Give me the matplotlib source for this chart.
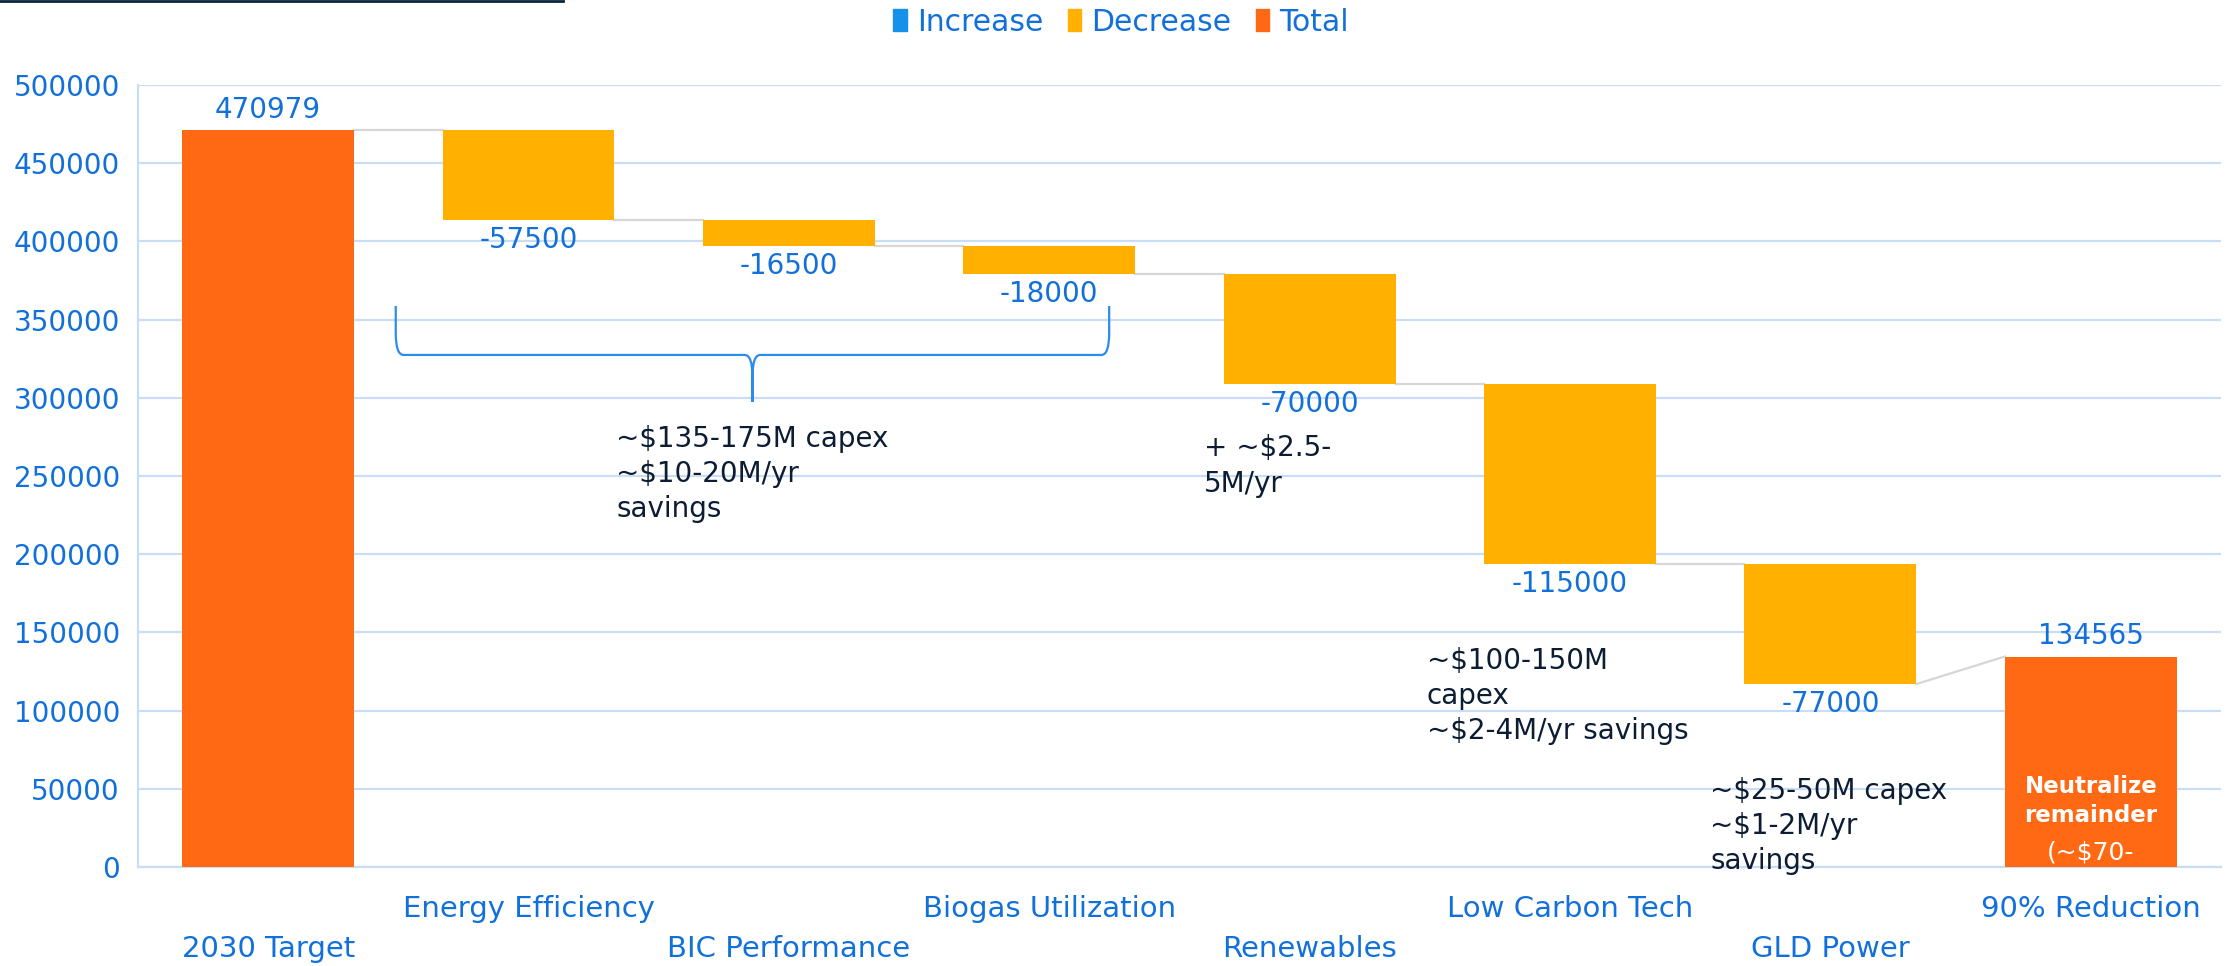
import matplotlib
matplotlib.use('Agg')
import matplotlib.pyplot as plt
from matplotlib.patches import Patch, PathPatch
from matplotlib.path import Path
from matplotlib.lines import Line2D

# datos del waterfall
categories = ['2030 Target', 'Energy Efficiency', 'BIC Performance', 'Biogas Utilization',
              'Renewables', 'Low Carbon Tech', 'GLD Power', '90% Reduction']
start_total = 470979
changes = [-57500, -16500, -18000, -70000, -115000, -77000]
end_total = 134565
yticks = [0, 50000, 100000, 150000, 200000, 250000, 300000, 350000, 400000, 450000, 500000]

BLUE_TXT = '#1170D9'
C_INC = '#1591EA'
C_DEC = '#FFB000'
C_TOT = '#FF6914'
GRID = '#C9DEF6'
DARK = '#0B1C33'

plt.rcParams['font.family'] = ['DejaVu Sans']

fig = plt.figure(figsize=(22.29, 9.66), dpi=100)
ax = fig.add_axes([0.0619, 0.1025, 0.9345, 0.8095])

# bases y alturas
bottoms, heights, colors, starts, ends, labels = [], [], [], [], [], []
bottoms.append(0); heights.append(start_total); colors.append(C_TOT)
starts.append(start_total); ends.append(start_total); labels.append(str(start_total))
level = start_total
for c in changes:
    bottoms.append(level + c); heights.append(-c); colors.append(C_DEC)
    starts.append(level); ends.append(level + c); labels.append(str(c))
    level += c
bottoms.append(0); heights.append(end_total); colors.append(C_TOT)
starts.append(end_total); ends.append(end_total); labels.append(str(end_total))

x = list(range(len(categories)))
w = 0.66
ax.bar(x, heights, bottom=bottoms, width=w, color=colors, zorder=3)

# conectores
for i in range(len(x) - 1):
    ax.plot([x[i] + w / 2, x[i + 1] - w / 2], [ends[i], starts[i + 1]],
            color='#D6D6D6', lw=1.6, zorder=2)

# etiquetas de valores
for i in x:
    if colors[i] == C_TOT:
        ax.annotate(labels[i], (x[i], bottoms[i] + heights[i]), xytext=(0, 15),
                    textcoords='offset points', ha='center', va='center',
                    fontsize=20, color=BLUE_TXT, zorder=4)
    else:
        ax.annotate(labels[i], (x[i], bottoms[i]), xytext=(0, -14.5),
                    textcoords='offset points', ha='center', va='center',
                    fontsize=20, color=BLUE_TXT, zorder=4)

ax.set_xlim(-0.5, 7.5)
ax.set_ylim(0, 500000)
ax.set_yticks(yticks)
ax.set_yticklabels([str(v) for v in yticks])
ax.tick_params(axis='y', length=0, pad=13, labelsize=20, labelcolor=BLUE_TXT)

odd = [i for i in x if i % 2 == 1]
even = [i for i in x if i % 2 == 0]
ax.set_xticks(odd)
ax.set_xticklabels([categories[i] for i in odd])
ax.set_xticks(even, minor=True)
ax.set_xticklabels([categories[i] for i in even], minor=True)
ax.tick_params(axis='x', which='major', length=0, pad=20, labelsize=21, labelcolor=BLUE_TXT)
ax.tick_params(axis='x', which='minor', length=0, pad=49, labelsize=21, labelcolor=BLUE_TXT)

ax.yaxis.grid(True, color=GRID, lw=1.6)
ax.set_axisbelow(True)
for s in ['top', 'right']:
    ax.spines[s].set_visible(False)
for s in ['left', 'bottom']:
    ax.spines[s].set_color(GRID)
    ax.spines[s].set_linewidth(1.6)

# llave sobre las tres primeras reducciones
L, R, C = 0.49, 3.23, 1.86
top, h, tip = 358700, 327400, 297300
rx, ry = 0.03, 14000
verts = [(L, top), (L, h + ry), (L, h), (L + rx, h), (C - rx, h), (C, h), (C, h - ry), (C, tip),
         (C, tip), (C, h - ry), (C, h), (C + rx, h), (R - rx, h), (R, h), (R, h + ry), (R, top)]
codes = [Path.MOVETO, Path.LINETO, Path.CURVE3, Path.CURVE3, Path.LINETO, Path.CURVE3, Path.CURVE3, Path.LINETO,
         Path.MOVETO, Path.LINETO, Path.CURVE3, Path.CURVE3, Path.LINETO, Path.CURVE3, Path.CURVE3, Path.LINETO]
ax.add_patch(PathPatch(Path(verts, codes), fill=False, edgecolor='#2A8CF0', lw=1.6, zorder=4))

# notas
ax.text(1.337, 251000, '~$135-175M capex\n~$10-20M/yr\nsavings', ha='left', va='center',
        fontsize=20, color=DARK, linespacing=1.32, zorder=5)
ax.text(3.593, 256400, '+ ~$2.5-\n5M/yr', ha='left', va='center',
        fontsize=20, color=DARK, linespacing=1.32, zorder=5)
ax.text(4.45, 109500, '~$100-150M\ncapex\n~$2-4M/yr savings', ha='left', va='center',
        fontsize=20, color=DARK, linespacing=1.32, zorder=5)
ax.text(5.538, 26500, '~$25-50M capex\n~$1-2M/yr\nsavings', ha='left', va='center',
        fontsize=20, color=DARK, linespacing=1.32, zorder=5, clip_on=False)
ax.text(7, 42200, 'Neutralize\nremainder', ha='center', va='center', fontsize=16.5,
        fontweight='bold', color='white', linespacing=1.35, zorder=5)
ax.text(7, 9000, '(~$70-', ha='center', va='center', fontsize=18, color='white', zorder=5)

# leyenda
handles = [Patch(color=C_INC, label='Increase'), Patch(color=C_DEC, label='Decrease'),
           Patch(color=C_TOT, label='Total')]
leg = fig.legend(handles=handles, loc='center', bbox_to_anchor=(0.503, 0.977), ncol=3,
                 frameon=False, fontsize=21.5, handlelength=0.45, handleheight=0.75,
                 handletextpad=0.35, columnspacing=0.8)
for t in leg.get_texts():
    t.set_color(BLUE_TXT)

# linea oscura arriba a la izquierda
fig.add_artist(Line2D([0, 0.2526], [0.999, 0.999], color='#0C2340', lw=2))

fig.savefig('out.png', dpi=100)
